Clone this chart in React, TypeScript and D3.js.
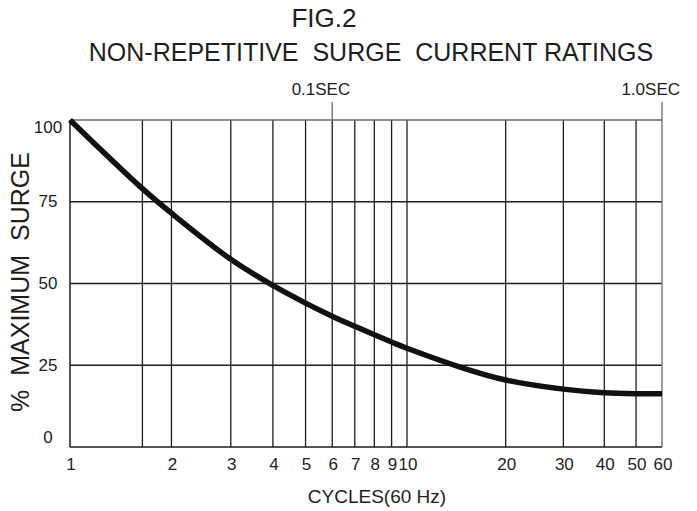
import React from "react"
import * as d3 from "d3"

const cycles = [1, 1.64, 2, 3, 4, 5, 6, 7, 8, 9, 10, 15, 20, 30, 40, 50, 60]
const surge = [100, 79, 71.5, 57.4, 49.4, 44, 40, 36.9, 34.3, 32.1, 30.2, 24, 20.5, 17.7, 16.6, 16.3, 16.3]

const gridCycles = [1.64, 2, 3, 4, 5, 6, 7, 8, 9, 10, 20, 30, 40, 50]
const xTickLabels = [1, 2, 3, 4, 5, 6, 7, 8, 9, 10, 20, 30, 40, 50, 60]
const yTicks = [0, 25, 50, 75, 100]
const secCycles = [6, 60]
const secLabels = ["0.1SEC", "1.0SEC"]

const FONT = "'Liberation Sans', Arial, Helvetica, sans-serif"
const INK = "#1e1e1e"

export default function App() {
  const left = 70
  const right = 662
  const top = 120
  const bottom = 447

  // hand-drawn log grid: first decade is a bit wider than the second
  const x = d3.scaleLog().domain([1, 10, 60]).range([left, 407, right])
  const y = d3.scaleLinear().domain([0, 100]).range([bottom, top])

  const points = cycles.map((c, i) => [c, surge[i]] as [number, number])
  const line = d3.line<[number, number]>()
    .x(d => x(d[0]))
    .y(d => y(d[1]))
    .curve(d3.curveCatmullRom.alpha(0.5))

  return (
    <svg
      width={697}
      height={511}
      viewBox="0 0 697 511"
      style={{ position: "absolute", left: 0, top: 0, background: "#fff" }}
      fontFamily={FONT}
    >
      <text x={324} y={27} textAnchor="middle" fontSize={26} fill={INK}>FIG.2</text>
      <text x={371} y={61} textAnchor="middle" fontSize={25} fill={INK} style={{ whiteSpace: "pre" }}>
        {"NON-REPETITIVE  SURGE  CURRENT RATINGS"}
      </text>

      {/* horizontal grid */}
      {yTicks.filter(v => v > 0 && v < 100).map(v => (
        <line key={"h" + v} x1={left} x2={right} y1={y(v)} y2={y(v)} stroke={INK} strokeWidth={1.3} />
      ))}
      {/* vertical grid */}
      {gridCycles.map(c => (
        <line key={"v" + c} x1={x(c)} x2={x(c)} y1={top} y2={bottom} stroke={INK} strokeWidth={1.3} />
      ))}

      {/* frame */}
      <line x1={left} x2={right} y1={top} y2={top} stroke="#6a6a6a" strokeWidth={1.3} />
      <line x1={right} x2={right} y1={top} y2={bottom} stroke="#6a6a6a" strokeWidth={1.3} />
      <line x1={left} x2={right} y1={bottom} y2={bottom} stroke={INK} strokeWidth={1.5} />
      <line x1={left} x2={left} y1={top} y2={bottom} stroke={INK} strokeWidth={1.5} />

      {/* seconds marks above the plot */}
      {secCycles.map((c, i) => (
        <g key={"s" + c}>
          <line x1={x(c)} x2={x(c)} y1={top - 18} y2={top} stroke="#6a6a6a" strokeWidth={1.3} />
          <text x={x(c) + 18} y={95} textAnchor="end" fontSize={17} fill={INK}>{secLabels[i]}</text>
        </g>
      ))}

      {/* y labels */}
      {yTicks.map(v => (
        <text
          key={"yl" + v}
          x={48}
          y={Math.min(Math.max(y(v), top + 7), bottom - 10)}
          dominantBaseline="central"
          textAnchor="middle"
          fontSize={17}
          fill={INK}
        >
          {v}
        </text>
      ))}

      {/* x labels */}
      {xTickLabels.map(c => (
        <text key={"xl" + c} x={x(c) + 1} y={470} textAnchor="middle" fontSize={17} fill={INK}>{c}</text>
      ))}

      <path d={line(points) || ""} fill="none" stroke="#111" strokeWidth={5.5} strokeLinecap="butt" />

      <text
        transform={`translate(29,282) rotate(-90)`}
        textAnchor="middle"
        fontSize={25}
        fill={INK}
        style={{ whiteSpace: "pre" }}
      >
        {"%  MAXIMUM  SURGE"}
      </text>
      <text x={377} y={503} textAnchor="middle" fontSize={19} fill={INK}>CYCLES(60 Hz)</text>
    </svg>
  )
}
